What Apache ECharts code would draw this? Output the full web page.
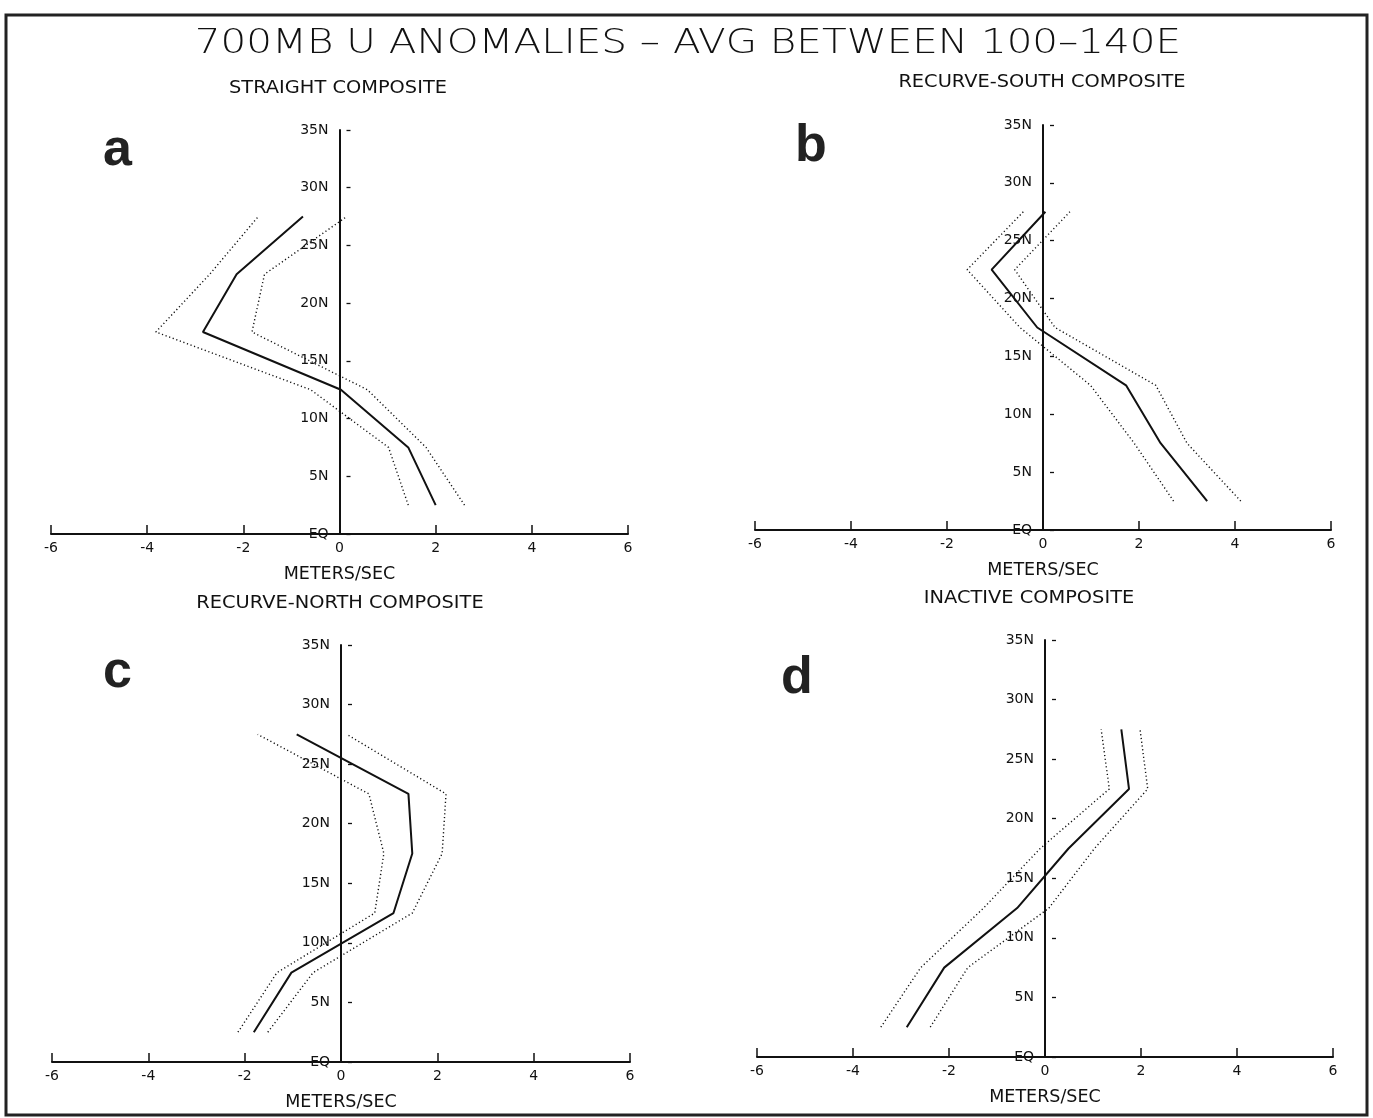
<!DOCTYPE html>
<html>
<head>
<meta charset="utf-8">
<title>700MB U anomalies</title>
<script src="https://cdn.jsdelivr.net/npm/echarts@6.0.0/dist/echarts.min.js"></script>
<style>
  html, body { margin: 0; padding: 0; background: #fff; }
  #chart { width: 1373px; height: 1118px; }
</style>
</head>
<body>
<div id="chart"></div>
<script>
// latitudes of the profile points (deg N)
const lats = [2.5, 7.5, 12.5, 17.5, 22.5, 27.5];
const latTicks = [0, 5, 10, 15, 20, 25, 30, 35];
const speedTicks = [-6, -4, -2, 0, 2, 4, 6];

// u anomalies (m/s), mean and the two bounds
const straightMean = [2.0, 1.43, 0.03, -2.84, -2.14, -0.76];
const straightLow  = [1.43, 1.02, -0.6, -3.82, -2.70, -1.69];
const straightHigh = [2.6, 1.8, 0.58, -1.82, -1.56, 0.15];

const southMean = [3.42, 2.45, 1.73, -0.12, -1.07, 0.05];
const southLow  = [2.72, 1.9, 0.99, -0.48, -1.58, -0.41];
const southHigh = [4.12, 3.0, 2.35, 0.25, -0.59, 0.56];

const northMean = [-1.81, -1.03, 1.09, 1.48, 1.40, -0.92];
const northLow  = [-2.14, -1.33, 0.70, 0.89, 0.58, -1.73];
const northHigh = [-1.52, -0.58, 1.48, 2.10, 2.18, 0.12];

const inactiveMean = [-2.88, -2.10, -0.58, 0.49, 1.75, 1.59];
const inactiveLow  = [-3.42, -2.59, -1.28, -0.10, 1.34, 1.17];
const inactiveHigh = [-2.39, -1.61, 0.08, 1.03, 2.14, 1.98];

const panelNames = ['STRAIGHT COMPOSITE', 'RECURVE-SOUTH COMPOSITE', 'RECURVE-NORTH COMPOSITE', 'INACTIVE COMPOSITE'];
const panelLetters = ['a', 'b', 'c', 'd'];
const panels = [
    [straightMean, straightLow, straightHigh],
    [southMean, southLow, southHigh],
    [northMean, northLow, northHigh],
    [inactiveMean, inactiveLow, inactiveHigh]
];

// layout of the four plots
const grids = [
    {left: 51, top: 130, width: 577, height: 404},
    {left: 755, top: 125, width: 576, height: 405},
    {left: 52, top: 645, width: 578, height: 417},
    {left: 757, top: 640, width: 576, height: 417}
];
const namePos = [[338, 89], [1042, 83], [340, 604], [1029, 599]];
const letterPos = [[103, 177], [795, 173], [103, 699], [781, 705]];

const FONT = '"DejaVu Sans", sans-serif';

let xAxes = [], yAxes = [], series = [], graphics = [];

grids.forEach((g, i) => {
    xAxes.push({
        type: 'value', gridIndex: i, min: speedTicks[0], max: speedTicks[speedTicks.length - 1], interval: 2,
        name: 'METERS/SEC', nameLocation: 'middle', nameGap: 31,
        nameTextStyle: {color: '#111', fontSize: 17.5, fontFamily: FONT},
        axisLine: {lineStyle: {color: '#111', width: 2}},
        axisTick: {inside: true, length: 9, lineStyle: {color: '#111', width: 1.5}},
        axisLabel: {color: '#111', fontSize: 14, fontFamily: FONT, margin: 7},
        splitLine: {show: false}
    });
    // main latitude axis, shifted onto x = 0
    yAxes.push({
        type: 'value', gridIndex: i, min: latTicks[0], max: latTicks[latTicks.length - 1], interval: 5,
        position: 'left', offset: -g.width / 2,
        axisLine: {lineStyle: {color: '#111', width: 2}},
        axisTick: {show: false},
        axisLabel: {color: '#111', fontSize: 14, fontFamily: FONT, margin: 11,
            formatter: v => v === 0 ? 'EQ' : v + 'N'},
        splitLine: {show: false}
    });
    // small detached dashes right of the axis
    yAxes.push({
        type: 'value', gridIndex: i, min: latTicks[0], max: latTicks[latTicks.length - 1], interval: 5,
        position: 'left', offset: -g.width / 2 - 7,
        axisLine: {show: false},
        axisTick: {inside: true, length: 4, lineStyle: {color: '#111', width: 1.3}},
        axisLabel: {show: false},
        splitLine: {show: false}
    });

    const [mean, low, high] = panels[i];
    const toPts = arr => arr.map((v, k) => [v, lats[k]]);
    [low, high].forEach(arr => {
        series.push({
            type: 'line', xAxisIndex: i, yAxisIndex: 2 * i, data: toPts(arr),
            symbol: 'none', silent: true,
            lineStyle: {color: '#111', width: 1.4, type: [1.2, 2.6]}
        });
    });
    series.push({
        type: 'line', xAxisIndex: i, yAxisIndex: 2 * i, data: toPts(mean),
        symbol: 'none', silent: true,
        lineStyle: {color: '#111', width: 2}
    });

    graphics.push({
        type: 'text', x: namePos[i][0], y: namePos[i][1], scaleX: 1.14,
        style: {text: panelNames[i], font: '17px ' + FONT, fill: '#111', align: 'center', verticalAlign: 'middle'}
    });
    graphics.push({
        type: 'text', x: letterPos[i][0], y: letterPos[i][1],
        style: {text: panelLetters[i], font: 'bold 52px "Liberation Sans", Arial, sans-serif', fill: '#222', align: 'left', verticalAlign: 'bottom'}
    });
});

graphics.push({
    type: 'text', x: 688, y: 44, scaleX: 1.19,
    style: {text: '700MB U ANOMALIES \u2013 AVG BETWEEN 100\u2013140E', font: '200 34px ' + FONT, fill: '#111', align: 'center', verticalAlign: 'middle'}
});
graphics.push({
    type: 'rect', shape: {x: 6, y: 15, width: 1361, height: 1100},
    style: {fill: 'none', stroke: '#222', lineWidth: 3}
});

const option = {
    backgroundColor: '#fff',
    animation: false,
    grid: grids,
    xAxis: xAxes,
    yAxis: yAxes,
    series: series,
    graphic: graphics
};

let chart = echarts.init(document.getElementById('chart'));
chart.setOption(option);
</script>
</body>
</html>
